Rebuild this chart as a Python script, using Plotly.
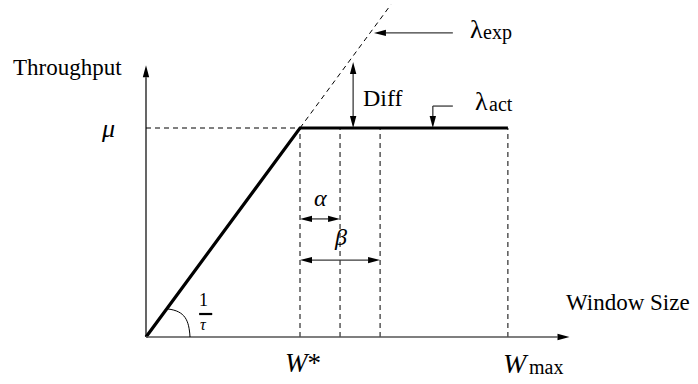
import plotly.graph_objects as go

# ── Schematic values (window size units, throughput units) ───────────────────
W_STAR = 4.0          # knee of the curve
ALPHA = 1.04          # alpha threshold past W*
BETA = 2.08           # beta threshold past W*
W_MAX = 9.4
MU = 1.0              # max throughput
EXP_TOP = 1.59        # top of the extrapolated (expected) line
X_AXIS_END = 11.0
Y_AXIS_END = 1.30

LEXP_Y = 1.455        # lambda_exp pointer height
LEXP_TAIL = 7.97
DIFF_X = 5.38
DIFF_TOP = 1.316
ACT_X = 7.45
ACT_TAIL_X = 7.97
ACT_Y = 1.105
ALPHA_Y = 0.565
BETA_Y = 0.368

# pixel scale of the 698x384 canvas (origin at px 146, 337)
SX, SY = 38.5, 209.0
OX, OY = 146.0, 337.0
X_RANGE = [-OX / SX, (698 - OX) / SX]
Y_RANGE = [(OY - 384) / SY, OY / SY]

FONT = "'Liberation Serif', 'Times New Roman', Times, serif"
INK = "#000000"
SHAFT = "#3a3a3a"


def head(tx, ty, ux, uy, length=12, half=3.2):
    """Filled arrowhead path, tip at (tx, ty); (ux, uy) screen direction."""
    px, py = -uy, ux
    pts = [(0, 0),
           (-ux * length + px * half, -uy * length + py * half),
           (-ux * length - px * half, -uy * length - py * half)]
    coords = [(tx + dx / SX, ty - dy / SY) for dx, dy in pts]
    d = "M " + " L ".join(f"{x:.4f},{y:.4f}" for x, y in coords) + " Z"
    return dict(type="path", path=d, xref="x", yref="y",
                fillcolor=INK, line=dict(width=0), layer="above")


def seg(x0, y0, x1, y1, color=SHAFT, width=1.3, dash=None):
    ln = dict(color=color, width=width)
    if dash:
        ln["dash"] = dash
    return dict(type="line", x0=x0, y0=y0, x1=x1, y1=y1, xref="x", yref="y",
                line=ln, layer="above")


fig = go.Figure()

# ── Guides (dashed) ──────────────────────────────────────────────────────────
vx, vy = [], []
for x in [W_STAR, W_STAR + ALPHA, W_STAR + BETA, W_MAX]:
    vx += [x, x, None]
    vy += [0, MU, None]
vx += [0, W_STAR, None, W_STAR, EXP_TOP * W_STAR / MU]
vy += [MU, MU, None, MU, EXP_TOP]
fig.add_trace(go.Scatter(x=vx, y=vy, mode="lines", hoverinfo="skip",
                         line=dict(color=INK, width=1, dash="5px,4px")))

# ── Actual throughput ────────────────────────────────────────────────────────
fig.add_trace(go.Scatter(x=[0, W_STAR, W_MAX], y=[0, MU, MU], mode="lines",
                         line=dict(color=INK, width=3.2), hoverinfo="skip"))

L = 12 / SX   # arrowhead length in x units
LY = 12 / SY  # arrowhead length in y units
shapes = [
    # axes
    seg(0, 0, 0, Y_AXIS_END - LY, color=INK, width=1.2),
    head(0, Y_AXIS_END, 0, -1),
    seg(0, 0, X_AXIS_END - L, 0, color="#555555", width=1.6),
    head(X_AXIS_END, 0, 1, 0),
    # lambda_exp pointer
    seg(LEXP_TAIL, LEXP_Y, LEXP_Y * W_STAR / MU + 0.1 + L, LEXP_Y),
    head(LEXP_Y * W_STAR / MU + 0.1, LEXP_Y, -1, 0),
    # Diff
    seg(DIFF_X, MU + LY, DIFF_X, DIFF_TOP - LY),
    head(DIFF_X, DIFF_TOP, 0, -1),
    head(DIFF_X, MU, 0, 1),
    # lambda_act pointer
    seg(ACT_TAIL_X, ACT_Y, ACT_X, ACT_Y),
    seg(ACT_X, ACT_Y, ACT_X, MU + LY),
    head(ACT_X, MU, 0, 1),
    # alpha / beta spans
    seg(W_STAR + L, ALPHA_Y, W_STAR + ALPHA - L, ALPHA_Y),
    head(W_STAR, ALPHA_Y, -1, 0),
    head(W_STAR + ALPHA, ALPHA_Y, 1, 0),
    seg(W_STAR + L, BETA_Y, W_STAR + BETA - L, BETA_Y),
    head(W_STAR, BETA_Y, -1, 0),
    head(W_STAR + BETA, BETA_Y, 1, 0),
    # slope angle arc and 1/tau bar
    dict(type="path", xref="x", yref="y", layer="above",
         path="M 0.571,0.134 C 1.013,0.124 1.117,0.081 1.143,0",
         line=dict(color=INK, width=1)),
    seg(1.38, 0.11, 1.72, 0.11, color=INK, width=2.2),
]


def label(x, y, text, size=22, xanchor="center"):
    return dict(x=x, y=y, xref="x", yref="y", text=text, showarrow=False,
                xanchor=xanchor, yanchor="middle", borderpad=0,
                font=dict(family=FONT, size=size, color=INK))


annotations = [
    label(-2.03, Y_AXIS_END - 0.01, "Throughput", size=23),
    label(-0.99, MU, "<i>μ</i>", size=26),
    # lambda_exp (main symbol + subscript)
    label(8.40, 1.469, "λ", size=26, xanchor="left"),
    label(8.74, 1.456, "exp", size=20, xanchor="left"),
    label(5.61, 1.144, "Diff", size=24, xanchor="left"),
    # lambda_act
    label(8.53, 1.129, "λ", size=26, xanchor="left"),
    label(8.87, 1.116, "act", size=20, xanchor="left"),
    label(W_STAR + ALPHA / 2, 0.665, "<i>α</i>", size=24),
    label(W_STAR + BETA / 2, 0.478, "<i>β</i>", size=24),
    label(1.49, 0.175, "1", size=18),
    label(1.49, 0.058, "<i>τ</i>", size=16),
    label(W_STAR + 0.08, -0.125, "<i>W</i>*", size=27),
    # W_max
    label(9.25, -0.129, "<i>W</i>", size=28, xanchor="left"),
    label(9.93, -0.145, "max", size=20, xanchor="left"),
    label(12.53, 0.167, "Window Size", size=23),
]

fig.update_layout(
    width=698, height=384, autosize=False,
    margin=dict(l=0, r=0, t=0, b=0),
    paper_bgcolor="white", plot_bgcolor="white",
    showlegend=False,
    font=dict(family=FONT),
    xaxis=dict(range=X_RANGE, visible=False, fixedrange=True),
    yaxis=dict(range=Y_RANGE, visible=False, fixedrange=True),
    shapes=shapes, annotations=annotations,
)
fig.write_html("out.html", config={"displayModeBar": False},
               post_script="document.body.style.margin='0';")
